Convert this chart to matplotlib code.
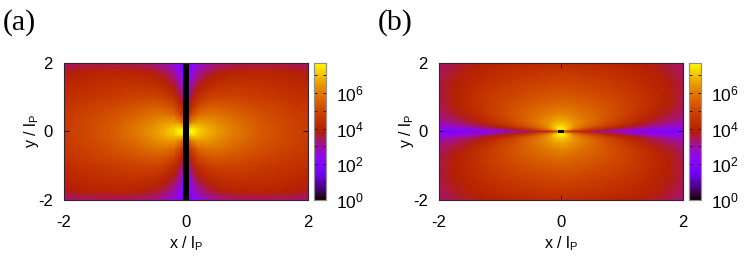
import numpy as np
import matplotlib
matplotlib.use("Agg")
import matplotlib.pyplot as plt
from matplotlib.colors import LogNorm
from matplotlib.ticker import LogFormatterMathtext, NullFormatter

plt.rcParams['font.family'] = ['Liberation Sans', 'DejaVu Sans']
plt.rcParams['mathtext.fontset'] = 'custom'
plt.rcParams['mathtext.rm'] = 'Liberation Sans'
plt.rcParams['mathtext.default'] = 'rm'
plt.rcParams['axes.unicode_minus'] = False

W, H = 747, 262

# log10 of the signal, upper right quadrant only
# panel (a)
xs_a = [0.05, 0.1, 0.2, 0.35, 0.5, 0.75, 1.0, 1.25, 1.5, 1.75, 2.0]
ys_a = [0.0, 0.1, 0.25, 0.5, 0.75, 1.0, 1.25, 1.5, 1.75, 2.0]
log_a = [
    [7.7, 7.65, 7.2, 6.8, 6.5, 6.1, 5.75, 5.4, 5.15, 4.95, 4.75],
    [7.2, 7.4, 7.1, 6.75, 6.45, 6.05, 5.72, 5.4, 5.15, 4.95, 4.75],
    [5.8, 6.3, 6.6, 6.5, 6.3, 5.95, 5.65, 5.35, 5.12, 4.92, 4.72],
    [4.4, 5.0, 5.7, 5.9, 5.9, 5.65, 5.42, 5.2, 5.0, 4.82, 4.65],
    [3.7, 4.3, 5.0, 5.35, 5.45, 5.35, 5.15, 5.0, 4.85, 4.68, 4.52],
    [3.1, 3.7, 4.4, 4.8, 4.95, 4.92, 4.82, 4.72, 4.6, 4.48, 4.35],
    [2.65, 3.2, 3.85, 4.3, 4.52, 4.62, 4.6, 4.52, 4.42, 4.3, 4.18],
    [2.35, 2.8, 3.4, 3.88, 4.15, 4.3, 4.33, 4.3, 4.22, 4.1, 3.98],
    [2.05, 2.4, 3.0, 3.4, 3.7, 3.95, 4.02, 4.02, 3.95, 3.82, 3.7],
    [1.85, 2.1, 2.5, 2.9, 3.1, 3.3, 3.4, 3.42, 3.4, 3.35, 3.25],
]
# cells with no signal, drawn at the bottom of the scale
empty_x_a = [-0.05, 0.05]
empty_y_a = [-2.0, 2.0]

# panel (b)
xs_b = [0.0, 0.05, 0.1, 0.2, 0.35, 0.5, 0.75, 1.0, 1.25, 1.5, 1.75, 2.0]
ys_b = [0.0, 0.06, 0.12, 0.2, 0.3, 0.5, 0.75, 1.0, 1.25, 1.5, 1.75, 2.0]
log_b = [
    [7.0, 5.0, 4.4, 4.2, 4.0, 3.4, 2.8, 2.4, 2.1, 1.9, 1.8, 1.7],
    [7.6, 7.4, 6.9, 5.9, 5.1, 4.6, 3.75, 3.2, 2.8, 2.5, 2.3, 2.2],
    [7.5, 7.4, 7.1, 6.35, 5.7, 5.2, 4.45, 3.8, 3.25, 2.9, 2.7, 2.5],
    [7.1, 7.05, 6.9, 6.5, 6.0, 5.6, 5.0, 4.35, 3.8, 3.35, 3.0, 2.8],
    [6.8, 6.75, 6.65, 6.4, 6.05, 5.75, 5.2, 4.7, 4.15, 3.65, 3.3, 3.05],
    [6.25, 6.22, 6.18, 6.05, 5.88, 5.7, 5.35, 4.95, 4.5, 4.05, 3.65, 3.3],
    [5.8, 5.78, 5.75, 5.7, 5.6, 5.48, 5.25, 4.98, 4.62, 4.25, 3.82, 3.45],
    [5.45, 5.44, 5.42, 5.38, 5.3, 5.22, 5.05, 4.85, 4.58, 4.25, 3.88, 3.5],
    [5.15, 5.14, 5.13, 5.1, 5.05, 4.98, 4.85, 4.68, 4.45, 4.18, 3.85, 3.5],
    [4.9, 4.9, 4.88, 4.85, 4.8, 4.75, 4.62, 4.48, 4.3, 4.05, 3.78, 3.48],
    [4.6, 4.6, 4.58, 4.56, 4.52, 4.48, 4.4, 4.28, 4.12, 3.92, 3.65, 3.42],
    [4.25, 4.25, 4.24, 4.22, 4.2, 4.16, 4.08, 3.98, 3.85, 3.7, 3.5, 3.3],
]
empty_x_b = [-0.05, 0.05]
empty_y_b = [-0.05, 0.05]

panel_labels = ['(a)', '(b)']
axis_ticks = [-2, 0, 2]
cbar_min = 1
cbar_max = 5e7
cbar_major = [1e0, 1e2, 1e4, 1e6]
cbar_minor = [1e1, 1e3, 1e5, 1e7]


def px_axes(fig, x0, x1, y0, y1):
    # pixel box measured from the top left corner of the image
    return fig.add_axes([x0 / W, 1 - y1 / H, (x1 - x0) / W, (y1 - y0) / H])


def mirror(xs, ys, logs):
    # the maps are symmetric in both directions
    logs = np.array(logs)
    xs = np.array(xs)
    ys = np.array(ys)
    right = np.hstack([logs[:, ::-1], logs])
    full = np.vstack([right[::-1, :], right])
    return np.r_[-xs[::-1], xs], np.r_[-ys[::-1], ys], 10.0 ** full


def draw_panel(fig, left, label, xs, ys, logs, empty_x, empty_y):
    ax = px_axes(fig, left, left + 244, 63, 199.5)
    norm = LogNorm(vmin=cbar_min, vmax=cbar_max)

    if xs[0] > 0:
        # the two halves do not meet, the gap is the empty column
        logs = np.array(logs)
        X_r, Y_r, Z_r = xs, np.r_[-np.array(ys)[::-1], ys], 10.0 ** np.vstack([logs[::-1], logs])
        mesh = ax.pcolormesh(X_r, Y_r, Z_r, shading='gouraud', cmap='gnuplot', norm=norm)
        ax.pcolormesh(-np.array(X_r), Y_r, Z_r, shading='gouraud', cmap='gnuplot', norm=norm)
    else:
        X, Y, Z = mirror(xs, ys, logs)
        mesh = ax.pcolormesh(X, Y, Z, shading='gouraud', cmap='gnuplot', norm=norm)
    ax.pcolormesh(empty_x, empty_y, [[cbar_min]], cmap='gnuplot', norm=norm)

    ax.set_xlim(-2, 2)
    ax.set_ylim(-2, 2)
    ax.set_xticks(axis_ticks)
    ax.set_yticks(axis_ticks)
    ax.tick_params(direction='in', top=True, right=True, length=3.5, width=0.7,
                   color='#301010', labelsize=12)
    ax.tick_params(axis='x', pad=11)
    ax.tick_params(axis='y', pad=8)
    for s in ax.spines.values():
        s.set_linewidth(0.8)
        s.set_color('#3a2030')
    ax.set_xlabel(r'x / l$_{\mathrm{P}}$', fontsize=11.5, labelpad=3)
    ax.set_ylabel(r'y / l$_{\mathrm{P}}$', fontsize=11.5, labelpad=-2)

    cax = px_axes(fig, left + 249.7, left + 262.3, 63, 199.5)
    cb = fig.colorbar(mesh, cax=cax)
    cb.set_ticks(cbar_major)
    cb.set_ticks(cbar_minor, minor=True)
    cax.yaxis.set_major_formatter(LogFormatterMathtext())
    cax.yaxis.set_minor_formatter(NullFormatter())
    cax.tick_params(which='both', direction='in', left=True, right=True, length=2.5,
                    width=0.7, color='#301010', labelsize=12.5, pad=7)
    cb.outline.set_edgecolor('#909090')
    cb.outline.set_linewidth(0.9)

    fig.text((left - 61) / W, 1 - 30 / H, label, family='Liberation Serif', fontsize=21.5, color='black')


fig = plt.figure(figsize=(W / 100, H / 100), dpi=100)
draw_panel(fig, 64, panel_labels[0], xs_a, ys_a, log_a, empty_x_a, empty_y_a)
draw_panel(fig, 439, panel_labels[1], xs_b, ys_b, log_b, empty_x_b, empty_y_b)
fig.savefig("out.png", dpi=100)
